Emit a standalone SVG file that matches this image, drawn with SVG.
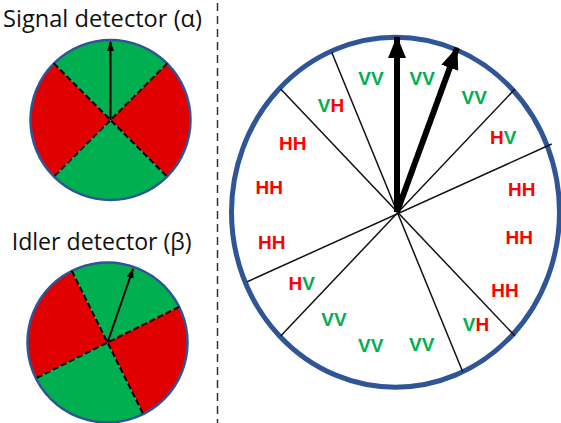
<svg xmlns="http://www.w3.org/2000/svg" width="561" height="423" viewBox="0 0 561 423">
<style>
.title{font-family:"Open Sans","Liberation Sans",Arial,sans-serif;font-size:23px;fill:#111}
.lab{font-family:"Liberation Sans",Arial,sans-serif;font-size:19px;font-weight:bold;text-anchor:middle}
.r{fill:#FF0000}.g{fill:#00B050}
.rs{fill:#E00000}.gs{fill:#00B050}
.rim{fill:none;stroke:#2F5597;stroke-width:2.5}
.dash{stroke:#000;stroke-width:2;stroke-dasharray:6 3;fill:none}
.thin{stroke:#111;stroke-width:1.5;fill:none}
.big{stroke:#000;stroke-width:6;fill:none}
</style>
<defs>
<marker id="sm" markerUnits="userSpaceOnUse" markerWidth="10" markerHeight="10" viewBox="0 0 10 10" refX="9" refY="5" orient="auto"><path d="M0,1.5 L10,5 L0,8.5 Z" fill="#000"/></marker>
<marker id="bg" markerUnits="userSpaceOnUse" markerWidth="22" markerHeight="18" viewBox="0 0 22 18" refX="21" refY="9" orient="auto"><path d="M0,0 L22,9 L0,18 Z" fill="#000"/></marker>
</defs>
<line x1="217.5" y1="3" x2="217.5" y2="423" stroke="#333" stroke-width="1.5" stroke-dasharray="8 5"/>
<g id="signal">
<text class="title" x="3" y="27" textLength="199" lengthAdjust="spacingAndGlyphs">Signal detector (α)</text>
<path class="gs" d="M110.5,120 L53.9,63.4 A80,80 0 0 1 167.1,63.4 Z"/>
<path class="rs" d="M110.5,120 L167.1,63.4 A80,80 0 0 1 167.1,176.6 Z"/>
<path class="gs" d="M110.5,120 L167.1,176.6 A80,80 0 0 1 53.9,176.6 Z"/>
<path class="rs" d="M110.5,120 L53.9,176.6 A80,80 0 0 1 53.9,63.4 Z"/>
<circle class="rim" cx="110.5" cy="120" r="80"/>
<line class="dash" x1="53.9" y1="63.4" x2="167.1" y2="176.6"/>
<line class="dash" x1="167.1" y1="63.4" x2="53.9" y2="176.6"/>
<line x1="110.5" y1="120" x2="110.5" y2="42" stroke="#000" stroke-width="2" marker-end="url(#sm)"/>
</g>
<g id="idler">
<text class="title" x="11.7" y="250" textLength="180" lengthAdjust="spacingAndGlyphs">Idler detector (β)</text>
<path class="gs" d="M107.5,342.5 L71.8,270.9 A80,80 0 0 1 179.1,306.8 Z"/>
<path class="rs" d="M107.5,342.5 L179.1,306.8 A80,80 0 0 1 143.2,414.1 Z"/>
<path class="gs" d="M107.5,342.5 L143.2,414.1 A80,80 0 0 1 35.9,378.2 Z"/>
<path class="rs" d="M107.5,342.5 L35.9,378.2 A80,80 0 0 1 71.8,270.9 Z"/>
<circle class="rim" cx="107.5" cy="342.5" r="80"/>
<line class="dash" x1="71.8" y1="270.9" x2="143.2" y2="414.1"/>
<line class="dash" x1="179.1" y1="306.8" x2="35.9" y2="378.2"/>
<line x1="107.5" y1="342.5" x2="133" y2="269" stroke="#000" stroke-width="2" marker-end="url(#sm)"/>
</g>
<g id="joint">
<ellipse cx="395.5" cy="212.2" rx="164" ry="175" fill="none" stroke="#2F5597" stroke-width="5"/>
<g id="connectors">
<line class="thin" x1="331.7" y1="52.3" x2="462.7" y2="371.7"/>
<line class="thin" x1="280.7" y1="89" x2="515" y2="336"/>
<line class="thin" x1="515" y1="89" x2="280.7" y2="336"/>
<line class="thin" x1="551.7" y1="144" x2="247.3" y2="281.7"/>
<line class="big" x1="397" y1="212" x2="397" y2="37" marker-end="url(#bg)"/>
<line class="big" x1="397" y1="212" x2="457" y2="48" marker-end="url(#bg)"/>
</g>
<g id="labels">
<text class="lab g" x="371" y="85">VV</text>
<text class="lab g" x="422.3" y="85">VV</text>
<text class="lab g" x="474.3" y="104.3">VV</text>
<text class="lab" x="331" y="112"><tspan class="g">V</tspan><tspan class="r">H</tspan></text>
<text class="lab" x="503.3" y="144.3"><tspan class="r">H</tspan><tspan class="g">V</tspan></text>
<text class="lab r" x="292.7" y="150.3">HH</text>
<text class="lab r" x="269.3" y="194.3">HH</text>
<text class="lab r" x="521.7" y="196.3">HH</text>
<text class="lab r" x="271.7" y="248.7">HH</text>
<text class="lab" x="301.7" y="290.3"><tspan class="r">H</tspan><tspan class="g">V</tspan></text>
<text class="lab g" x="334" y="326">VV</text>
<text class="lab g" x="370.7" y="352">VV</text>
<text class="lab g" x="421.7" y="351">VV</text>
<text class="lab" x="476" y="331"><tspan class="g">V</tspan><tspan class="r">H</tspan></text>
<text class="lab r" x="505" y="297">HH</text>
<text class="lab r" x="519.3" y="244.3">HH</text>
</g>
</g>
</svg>
